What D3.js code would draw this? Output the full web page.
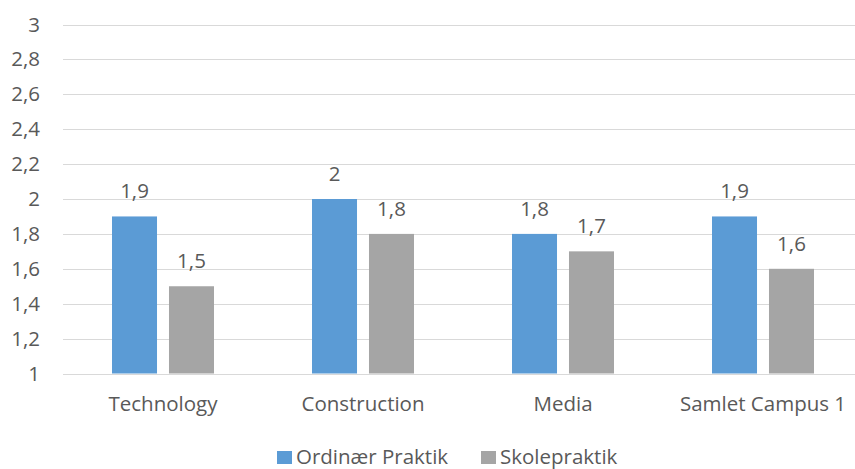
<!DOCTYPE html>
<html>
<head>
<meta charset="utf-8">
<script src="https://cdn.jsdelivr.net/npm/d3@7"></script>
<style>
  html, body { margin: 0; padding: 0; background: #fff; }
  svg { display: block; font-family: "Open Sans", "Liberation Sans", sans-serif; }
</style>
</head>
<body>
<svg id="chart" width="855" height="469"></svg>
<script>
// Chart data
const categories = ["Technology", "Construction", "Media", "Samlet Campus 1"];
const seriesNames = ["Ordinær Praktik", "Skolepraktik"];
const ordinaer = [1.9, 2.0, 1.8, 1.9];
const skole = [1.5, 1.8, 1.7, 1.6];
const yTicks = [1, 1.2, 1.4, 1.6, 1.8, 2, 2.2, 2.4, 2.6, 2.8, 3];
const colors = ["#5B9BD5", "#A5A5A5"];

const rows = categories.map((c, i) => ({ cat: c, values: [ordinaer[i], skole[i]] }));

const svg = d3.select("#chart");
const textColor = "#595959";
const fontSize = "20.5px";
const fmt = d3.formatLocale({ decimal: ",", thousands: ".", grouping: [3], currency: ["", " kr."] }).format("~g");

const plotLeft = 63, plotRight = 863, plotTop = 24.5, plotBottom = 373.5;

const x = d3.scaleBand().domain(categories).range([plotLeft, plotRight]).padding(0);
const xs = d3.scaleBand().domain(d3.range(seriesNames.length))
  .range([49, 151]).paddingInner(0.21).paddingOuter(0);
const y = d3.scaleLinear().domain([1, 3]).range([plotBottom, plotTop]);

// Horizontal gridlines
svg.append("g")
  .selectAll("line")
  .data(yTicks)
  .join("line")
  .attr("x1", plotLeft).attr("x2", plotRight)
  .attr("y1", d => Math.round(y(d)) + 0.5)
  .attr("y2", d => Math.round(y(d)) + 0.5)
  .attr("stroke", "#D9D9D9")
  .attr("stroke-width", 1);

// Y axis labels
const yAxis = d3.axisLeft(y).tickValues(yTicks).tickFormat(fmt).tickSize(0).tickPadding(0);
const gy = svg.append("g").attr("transform", `translate(40,0)`).call(yAxis);
gy.select(".domain").remove();
gy.selectAll("text")
  .attr("fill", textColor)
  .style("font-size", fontSize)
  .style("font-family", "'Open Sans', sans-serif");

// Bars
const groups = svg.append("g")
  .selectAll("g")
  .data(rows)
  .join("g")
  .attr("transform", d => `translate(${x(d.cat)},0)`);

groups.selectAll("rect")
  .data(d => d.values.map((v, k) => ({ v, k })))
  .join("rect")
  .attr("x", d => xs(d.k))
  .attr("width", xs.bandwidth())
  .attr("y", d => y(d.v))
  .attr("height", d => y(1) - y(d.v))
  .attr("fill", d => colors[d.k]);

// Value labels
groups.selectAll("text.val")
  .data(d => d.values.map((v, k) => ({ v, k })))
  .join("text")
  .attr("class", "val")
  .attr("x", d => xs(d.k) + xs.bandwidth() / 2)
  .attr("y", d => y(d.v) - 18)
  .attr("text-anchor", "middle")
  .attr("fill", textColor)
  .style("font-size", fontSize)
  .text(d => fmt(d.v));

// X axis labels
const xAxis = d3.axisBottom(x).tickSize(0).tickPadding(0);
const gx = svg.append("g").attr("transform", `translate(0,${plotBottom})`).call(xAxis);
gx.select(".domain").remove();
gx.selectAll("text")
  .attr("dy", null)
  .attr("y", 37)
  .attr("fill", textColor)
  .style("font-size", fontSize)
  .style("font-family", "'Open Sans', sans-serif");

// Legend
const legendItems = [
  { name: seriesNames[0], color: colors[0], x: 277 },
  { name: seriesNames[1], color: colors[1], x: 481 }
];
const lg = svg.append("g");
legendItems.forEach(it => {
  lg.append("rect")
    .attr("x", it.x).attr("y", 451)
    .attr("width", 15).attr("height", 13)
    .attr("fill", it.color);
  lg.append("text")
    .attr("x", it.x + 19).attr("y", 464)
    .attr("fill", textColor)
    .style("font-size", fontSize)
    .text(it.name);
});
</script>
</body>
</html>
